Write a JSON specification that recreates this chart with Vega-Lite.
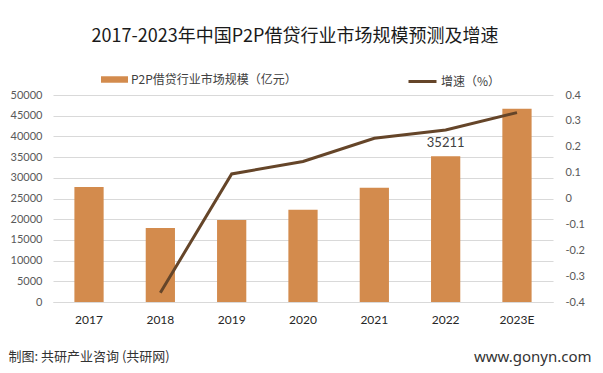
{
  "$schema": "https://vega.github.io/schema/vega-lite/v6.json",
  "autosize": "none",
  "width": 500,
  "height": 207,
  "padding": {"left": 53, "top": 95, "right": 50, "bottom": 71},
  "background": "white",
  "config": {
    "view": {"stroke": null},
    "font": "Noto Sans CJK SC"
  },
  "title": {
    "text": "2017-2023年中国P2P借贷行业市场规模预测及增速",
    "fontSize": 18,
    "fontWeight": "normal",
    "color": "#1a1a1a",
    "font": "Noto Sans CJK SC",
    "anchor": "middle",
    "dx": -8,
    "offset": 20
  },
  "data": {
    "values": [
      {"year": "2017", "scale": 27800, "rate": null},
      {"year": "2018", "scale": 17900, "rate": -0.364},
      {"year": "2019", "scale": 19800, "rate": 0.095},
      {"year": "2020", "scale": 22300, "rate": 0.143},
      {"year": "2021", "scale": 27600, "rate": 0.233},
      {"year": "2022", "scale": 35211, "rate": 0.265},
      {"year": "2023E", "scale": 46700, "rate": 0.332}
    ]
  },
  "encoding": {
    "x": {
      "field": "year",
      "type": "nominal",
      "sort": null,
      "scale": {"paddingInner": 0.59, "paddingOuter": 0.3},
      "axis": {
        "labelAngle": 0,
        "labelFont": "Lato",
        "labelFontSize": 12,
        "labelColor": "#262626",
        "labelPadding": 12,
        "ticks": false,
        "domainColor": "#d9d9d9",
        "title": "制图: 共研产业咨询 (共研网)",
        "titleFont": "Noto Sans CJK SC",
        "titleFontSize": 13,
        "titleFontWeight": "normal",
        "titleColor": "#333333",
        "titleAnchor": "start",
        "titleAlign": "left",
        "titleBaseline": "middle",
        "titleX": -45,
        "titleY": 54
      }
    }
  },
  "layer": [
    {
      "mark": {"type": "bar", "color": "#d38b4d"},
      "encoding": {
        "y": {
          "field": "scale",
          "type": "quantitative",
          "scale": {"domain": [0, 50000], "nice": false},
          "axis": {
            "values": [0, 5000, 10000, 15000, 20000, 25000, 30000, 35000, 40000, 45000, 50000],
            "format": "d",
            "labelFont": "Lato",
            "labelFontSize": 11,
            "labelColor": "#595959",
            "labelPadding": 11,
            "ticks": false,
            "domain": false,
            "gridColor": "#d9d9d9",
            "title": null
          }
        },
        "fill": {
          "datum": "P2P借贷行业市场规模（亿元）",
          "type": "nominal",
          "scale": {"range": ["#d38b4d"]},
          "legend": {
            "orient": "none",
            "legendX": 48,
            "legendY": -29,
            "title": null,
            "symbolType": "M-1,-0.24H1V0.24H-1Z",
            "symbolSize": 729,
            "symbolStrokeWidth": 0,
            "labelFont": "Noto Sans CJK SC",
            "labelFontSize": 12,
            "labelColor": "#404040",
            "labelOffset": 3,
            "labelLimit": 400
          }
        }
      }
    },
    {
      "transform": [{"filter": "datum.year == '2022'"}],
      "mark": {"type": "text", "dy": -13, "fontSize": 13, "color": "#404040", "font": "Lato"},
      "encoding": {
        "y": {"field": "scale", "type": "quantitative", "scale": {"domain": [0, 50000], "nice": false}, "axis": null},
        "text": {"field": "scale", "type": "quantitative", "format": "d"}
      }
    },
    {
      "mark": {"type": "line", "strokeWidth": 3, "strokeJoin": "miter"},
      "encoding": {
        "y": {
          "field": "rate",
          "type": "quantitative",
          "scale": {"domain": [-0.4, 0.4], "nice": false, "zero": false},
          "axis": {
            "orient": "right",
            "values": [-0.4, -0.3, -0.2, -0.1, 0, 0.1, 0.2, 0.3, 0.4],
            "labelExpr": "toString(round(datum.value*10)/10)",
            "labelFont": "Lato",
            "labelFontSize": 11,
            "labelColor": "#595959",
            "labelPadding": 12,
            "ticks": false,
            "domain": false,
            "grid": false,
            "title": "www.gonyn.com",
            "titleFont": "Noto Sans",
            "titleFontSize": 15,
            "titleFontWeight": "normal",
            "titleColor": "#333333",
            "titleAngle": 0,
            "titleAlign": "right",
            "titleBaseline": "middle",
            "titleX": 38,
            "titleY": 261
          }
        },
        "stroke": {
          "datum": "增速（%）",
          "type": "nominal",
          "scale": {"range": ["#654529"]},
          "legend": {
            "orient": "none",
            "legendX": 354,
            "legendY": -29,
            "title": null,
            "symbolType": "stroke",
            "symbolSize": 784,
            "symbolStrokeWidth": 3,
            "labelFont": "Noto Sans CJK SC",
            "labelFontSize": 12,
            "labelColor": "#404040",
            "labelOffset": 3
          }
        }
      }
    }
  ],
  "resolve": {"scale": {"y": "independent"}}
}
